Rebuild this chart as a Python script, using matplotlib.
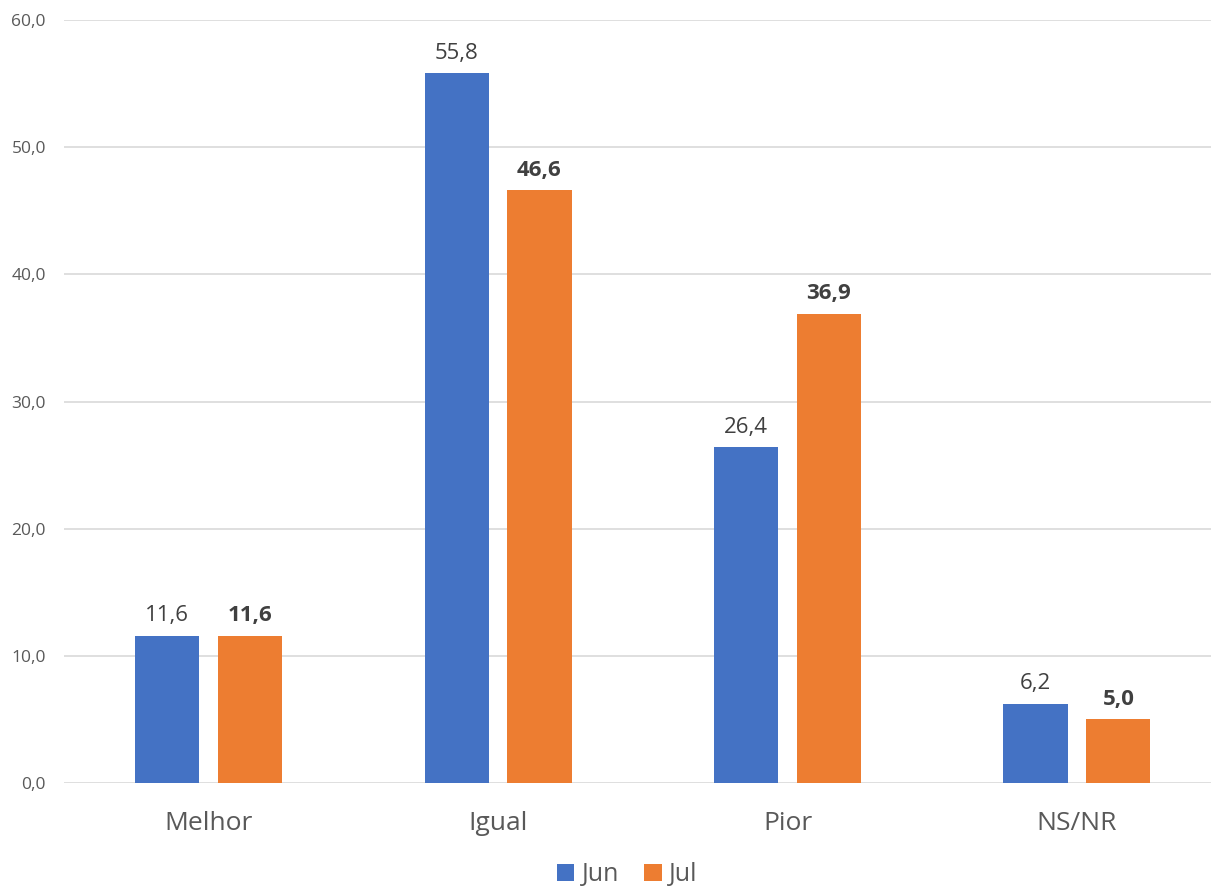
import numpy as np
import matplotlib.pyplot as plt

categorias = ['Melhor', 'Igual', 'Pior', 'NS/NR']
jun = [11.6, 55.8, 26.4, 6.2]
jul = [11.6, 46.6, 36.9, 5.0]
yticks = [0, 10, 20, 30, 40, 50, 60]

plt.rcParams['font.family'] = ['Open Sans', 'DejaVu Sans']
cinza = '#595959'
azul = '#4472C4'
laranja = '#ED7D31'

fig = plt.figure(figsize=(12.11, 8.90), dpi=100)
ax = fig.add_axes([0.0528, 0.1202, 0.956, 0.8573])

x = np.arange(len(categorias))
w = 0.222
b1 = ax.bar(x - 0.143, jun, w, color=azul, label='Jun', zorder=3)
b2 = ax.bar(x + 0.143, jul, w, color=laranja, label='Jul', zorder=3)

# rótulos de dados
for rect, v in zip(b1, jun):
    ax.annotate(f'{v:.1f}'.replace('.', ','), (rect.get_x() + rect.get_width() / 2, v),
                xytext=(0, 7), textcoords='offset points', ha='center', va='bottom',
                fontsize=16, color='#404040')
for rect, v in zip(b2, jul):
    ax.annotate(f'{v:.1f}'.replace('.', ','), (rect.get_x() + rect.get_width() / 2, v),
                xytext=(0, 7), textcoords='offset points', ha='center', va='bottom',
                fontsize=16, color='#404040', fontweight='bold')

ax.set_xlim(-0.5, 3.5)
ax.set_ylim(0, 60)
ax.set_yticks(yticks)
ax.set_yticklabels([f'{t:.1f}'.replace('.', ',') for t in yticks], fontsize=12.5, color=cinza)
ax.set_xticks(x)
ax.set_xticklabels(categorias, fontsize=19, color=cinza)
ax.tick_params(axis='both', length=0)
ax.tick_params(axis='x', pad=20)
ax.tick_params(axis='y', pad=13)
ax.grid(axis='y', color='#D9D9D9', linewidth=1.2, zorder=0)
for s in ax.spines.values():
    s.set_visible(False)

# legenda embaixo
fig.legend(handles=[b1, b2], loc='center', bbox_to_anchor=(0.518, 0.017), ncol=2, frameon=False,
           fontsize=18, handlelength=0.7, handleheight=0.7, handletextpad=0.3,
           columnspacing=1.0, labelcolor=cinza, borderpad=0.0)

fig.savefig('out.png', dpi=100)
